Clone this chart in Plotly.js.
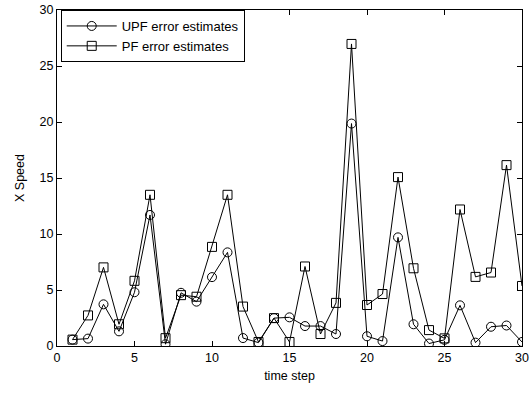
<!DOCTYPE html>
<html><head><meta charset="utf-8">
<script src="https://cdn.plot.ly/plotly-3.0.1.min.js"></script>
<style>body{margin:0;padding:0;background:#fff}#chart{width:532px;height:416px}</style>
</head><body><div id="chart"></div>
<script>
const timeSteps = [1,2,3,4,5,6,7,8,9,10,11,12,13,14,15,16,17,18,19,20,21,22,23,24,25,26,27,28,29,30];
const upfError = [0.57,0.66,3.72,1.31,4.8,11.7,0.16,4.75,3.96,6.15,8.36,0.71,0.3,2.49,2.56,1.78,1.78,1.07,19.86,0.87,0.44,9.7,1.94,0.22,0.55,3.63,0.3,1.72,1.83,0.36];
const pfError = [0.57,2.73,7.02,1.94,5.82,13.5,0.7,4.54,4.4,8.85,13.5,3.52,0.36,2.49,0.36,7.1,1.07,3.85,26.97,3.66,4.64,15.08,6.94,1.42,0.68,12.19,6.17,6.56,16.15,5.36];
const seriesNames = ['UPF error estimates','PF error estimates'];
const xTicks = [0,5,10,15,20,25,30];
const yTicks = [0,5,10,15,20,25,30];

const FONT = 'Liberation Sans, Arial, sans-serif';
const data = [
  {x: timeSteps, y: upfError, name: seriesNames[0], type:'scatter', mode:'lines+markers',
   line:{color:'#000', width:1}, marker:{symbol:'circle-open', size:9, color:'#000', line:{width:1}}},
  {x: timeSteps, y: pfError, name: seriesNames[1], type:'scatter', mode:'lines+markers',
   line:{color:'#000', width:1}, marker:{symbol:'square-open', size:9, color:'#000', line:{width:1}}}
];
const axisCommon = {showgrid:false, zeroline:false, showline:true, linecolor:'#000', linewidth:1,
  mirror:'ticks', ticks:'inside', ticklen:5, tickcolor:'#000',
  tickfont:{family:FONT, size:12.5, color:'#000'}};
const layout = {
  width:532, height:416,
  margin:{l:57, r:10, t:10, b:70},
  paper_bgcolor:'#fff', plot_bgcolor:'#fff',
  showlegend:true,
  legend:{x:0.008, y:1.0, xanchor:'left', yanchor:'top', bgcolor:'#fff', bordercolor:'#000', borderwidth:1,
    font:{family:FONT, size:13, color:'#000'}, tracegroupgap:0, itemwidth:50},
  xaxis:Object.assign({}, axisCommon, {range:[0,30], tickvals:xTicks, ticktext:xTicks.map(String),
    title:{text:'time step', font:{family:FONT, size:12.5, color:'#000'}, standoff:7}}),
  yaxis:Object.assign({}, axisCommon, {range:[0,30], tickvals:yTicks, ticktext:yTicks.map(String),
    title:{text:'X Speed', font:{family:FONT, size:12.5, color:'#000'}, standoff:12}})
};
Plotly.newPlot('chart', data, layout, {displayModeBar:false, staticPlot:true});
</script></body></html>
